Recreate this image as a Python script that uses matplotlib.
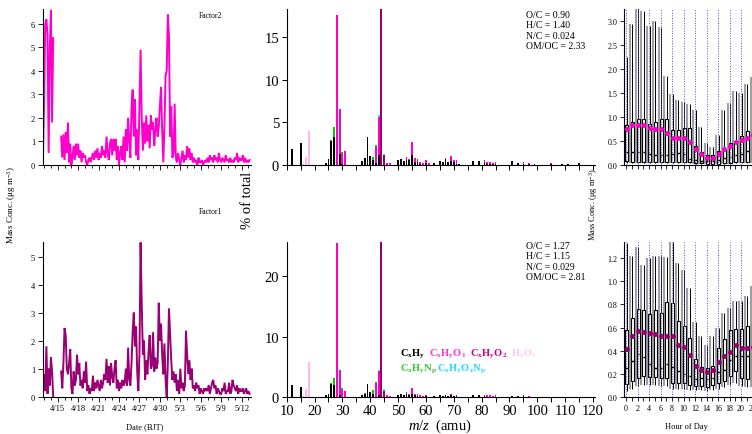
import numpy as np
import pandas as pd
import matplotlib
matplotlib.use('Agg')
import matplotlib.pyplot as plt
import matplotlib.dates as mdates
from matplotlib.ticker import MultipleLocator, FuncFormatter

plt.rcParams['font.family'] = ['Liberation Serif', 'DejaVu Serif']
plt.rcParams['mathtext.fontset'] = 'custom'
plt.rcParams['mathtext.rm'] = 'Liberation Serif'
plt.rcParams['mathtext.it'] = 'Liberation Serif:italic'
plt.rcParams['mathtext.bf'] = 'Liberation Serif:bold'

nan = np.nan
# ---------------- time series (4-hourly, starting 4/12 20:00) ----------------
ts_start = '2014-04-12 20:00'
factor2_ts = [0.4,
    2.7, 6.0, 6.2, 5.5, 0.5, 5.0,
    6.6, 1.8, 5.4, nan, nan, nan,
    nan, nan, nan, 1.2, 0.3, 1.3,
    0.2, 1.4, 0.5, 1.8, 0.1, 0.9,
    0.0, 0.3, 0.8, 0.2, 0.9, 0.4,
    0.9, 0.3, 0.6, 0.1, 0.5, 0.3,
    0.4, 0.1, 0.0, 0.2, 0.3, 0.1,
    0.3, 0.5, 0.2, 0.6, 0.3, 0.7,
    0.2, 0.5, 0.3, 0.8, 0.4, 0.6,
    0.3, 1.2, 0.5, 0.2, 0.9, 1.1,
    0.4, 1.1, 0.6, 1.1, 0.2, 0.8,
    0.0, 0.5, 0.8, 0.2, 1.2, 0.1,
    1.5, 0.6, 2.0, 1.0, 0.3, 2.4,
    3.2, 1.2, 2.8, 0.4, 1.5, 0.2,
    2.5, 4.9, 2.0, 0.6, 1.8, 0.9,
    2.1, 1.0, 1.7, 0.7, 2.1, 1.5,
    1.8, 0.8, 1.5, 2.0, 1.2, 1.6,
    2.5, 3.3, 1.5, 0.1, 1.6, 3.8,
    4.0, 6.4, 5.5, 1.2, 2.5, 0.3,
    0.5, 2.6, 0.3, 0.1, 0.5, 0.2,
    0.0, 0.3, 0.6, 0.1, 0.4, 0.2,
    0.8, 0.3, 0.7, 0.2, 0.5, 0.1,
    0.3, 0.1, 0.2, 0.0, 0.3, 0.1,
    0.1, 0.2, 0.0, 0.1, 0.2, 0.1,
    0.3, 0.1, 0.4, 0.2, 0.3, 0.1,
    0.4, 0.2, 0.3, 0.1, 0.5, 0.2,
    0.1, 0.3, 0.2, 0.1, 0.4, 0.2,
    0.2, 0.1, 0.3, 0.1, 0.2, 0.1,
    0.3, 0.2, 0.5, 0.1, 0.3, 0.2,
    0.2, 0.4, 0.1, 0.3, 0.1, 0.2,
    0.1, 0.2]

factor1_ts = [0.3,
    0.8, 0.2, 1.8, 0.1, 1.0, 0.4,
    1.4, 0.9, 0.0, nan, nan, nan,
    nan, nan, nan, 0.9, 0.3, 1.2,
    2.45, 2.2, 1.0, 0.8, 1.2, 1.7,
    0.3, 0.1, 0.9, 0.4, 0.6, 1.5,
    0.8, 1.2, 0.4, 0.6, 0.3, 0.9,
    0.5, 1.25, 0.2, 0.4, 0.1, 0.3,
    0.2, 0.75, 0.2, 0.5, 0.3, 0.6,
    0.4, 0.2, 0.6, 0.3, 0.5, 0.8,
    0.6, 1.35, 0.5, 1.1, 0.4, 1.2,
    0.7, 0.5, 1.0, 1.3, 0.3, 0.6,
    0.2, 0.5, 0.3, 0.6, 0.4, 0.5,
    1.0, 0.4, 1.75, 0.6, 0.4, 1.2,
    2.3, 3.0, 1.8, 2.5, 0.9, 0.2,
    1.5, 5.5, 3.3, 1.5, 2.0, 0.6,
    1.3, 0.8, 1.6, 2.2, 1.0, 1.1,
    2.3, 0.9, 1.4, 1.0, 1.2, 3.35,
    2.0, 2.6, 1.5, 0.8, 1.9, 0.6,
    0.0, 1.2, 3.15, 2.2, 1.3, 0.6,
    0.9, 0.5, 0.8, 0.2, 0.6, 0.1,
    1.0, 0.3, 0.5, 0.2, 0.4, 2.35,
    1.5, 0.8, 1.3, 0.6, 1.0, 0.3,
    0.4, 0.2, 0.5, 0.3, 0.4, 0.1,
    0.3, 0.2, 0.1, 0.3, 0.2, 0.3,
    0.2, 0.4, 0.1, 0.3, 0.5, 0.6,
    0.3, 0.4, 0.1, 0.3, 0.2, 0.1,
    0.1, 0.3, 0.2, 0.5, 0.1, 0.2,
    0.2, 0.5, 0.1, 0.2, 0.6, 0.4,
    0.3, 0.2, 0.4, 0.1, 0.3, 0.2,
    0.2, 0.3, 0.1, 0.2, 0.3, 0.1,
    0.2, 0.1]

# ---------------- mass spectra ----------------
mz = [12, 15, 16, 17, 18, 24, 25, 26, 27, 28, 29, 30, 31, 37, 38, 39, 40, 41, 42, 43,
      44, 45, 46, 47, 50, 51, 52, 53, 54, 55, 56, 57, 58, 59, 60, 61, 63, 65, 66, 67,
      68, 69, 70, 71, 72, 77, 79, 81, 82, 83, 84, 85, 91, 93, 95, 97, 99, 105, 109, 111, 115]

f2_CxHy = [1.85, 2.55, 0, 0, 0, 0.2, 0.65, 2.75, 3.3, 0, 1.3, 0.1, 0, 0.45, 0.75, 3.25, 1.05, 0.5, 0.15, 1.1,
           0, 0, 0, 0, 0.55, 0.65, 0.45, 0.6, 0.5, 1.15, 0.3, 0.3, 0.05, 0, 0.2, 0, 0.25, 0.4, 0.3, 0.7,
           0.35, 0.4, 0.3, 0.1, 0.1, 0.45, 0.45, 0.2, 0.05, 0.1, 0.1, 0.1, 0.4, 0.2, 0.1, 0.05, 0.1, 0.05, 0.1, 0.05, 0.15]
f2_CxHyO1 = [0, 0, 0, 0, 0, 0, 0, 0, 0, 17.6, 5.25, 1.2, 1.65, 0, 0, 0, 0, 0, 1.95, 4.5,
             0, 0, 0.2, 0.2, 0, 0, 0, 0.35, 0.2, 1.5, 0.45, 0.4, 0.3, 0.15, 0.3, 0.15, 0, 0, 0, 0.1,
             0, 0.65, 0.3, 0.5, 0, 0, 0, 0.3, 0.25, 0.2, 0.1, 0.25, 0, 0, 0.25, 0.2, 0, 0.15, 0, 0.05, 0]
f2_CxHyO2 = [0]*20 + [19.5, 1.15] + [0]*39
f2_HyO1 = [0, 0, 0.2, 0.9, 3.95] + [0]*56
f2_CxHyNp = [0]*7 + [0.15, 1.1, 0, 0, 0.25] + [0]*5 + [0.45, 0.25] + [0]*42
f2_CxHyOzNp = [0]*19 + [0.2, 0, 0.15] + [0]*39

f1_CxHy = [1.9, 1.6, 0, 0, 0, 0.2, 0.45, 2.05, 2.0, 0, 0.3, 0, 0, 0.35, 0.5, 2.05, 0.8, 0.5, 0, 0.3,
           0, 0, 0, 0, 0.35, 0.4, 0.35, 0.4, 0.3, 0.5, 0.2, 0.15, 0, 0, 0.05, 0, 0.1, 0.2, 0.1, 0.3,
           0.1, 0.2, 0.1, 0.05, 0, 0.2, 0.2, 0.1, 0, 0, 0, 0, 0.15, 0.05, 0.05, 0, 0, 0, 0, 0, 0]
f1_CxHyO1 = [0, 0, 0, 0, 0, 0, 0, 0, 0, 25.5, 4.2, 1.1, 1.0, 0, 0, 0, 0, 0, 2.2, 3.9,
             0, 0, 0.2, 0.1, 0, 0, 0, 0.3, 0.1, 0.95, 0.2, 0.25, 0.3, 0.1, 0.2, 0, 0, 0, 0, 0,
             0, 0.3, 0.05, 0.3, 0, 0, 0, 0.2, 0.25, 0.2, 0.05, 0.25, 0, 0, 0.15, 0.1, 0, 0, 0, 0, 0]
f1_CxHyO2 = [0]*20 + [27.0, 1.0] + [0]*39
f1_HyO1 = [0, 0, 0.2, 1.3, 5.8] + [0]*56
f1_CxHyNp = [0]*7 + [0.2, 1.05, 0, 0, 0.3] + [0]*2 + [0.1] + [0]*2 + [0.55, 0.2] + [0]*42
f1_CxHyOzNp = [0]*19 + [0.3, 0, 0.2] + [0]*39

family_names = ['C$_\\mathbf{x}$H$_\\mathbf{y}$',
                'C$_\\mathbf{x}$H$_\\mathbf{y}$O$_\\mathbf{1}$',
                'C$_\\mathbf{x}$H$_\\mathbf{y}$O$_\\mathbf{2}$',
                'H$_\\mathbf{y}$O$_\\mathbf{1}$',
                'C$_\\mathbf{x}$H$_\\mathbf{y}$N$_\\mathbf{p}$',
                'C$_\\mathbf{x}$H$_\\mathbf{y}$O$_\\mathbf{z}$N$_\\mathbf{p}$']
bar_colors = ['#000000', '#FF00CC', '#990066', '#FFB8E8', '#00CC00', '#00FFFF']
text_colors = ['#000000', '#FF33CC', '#CC0099', '#FFCCEE', '#33CC33', '#22DDFF']

f2_ratios = 'O/C = 0.90\nH/C = 1.40\nN/C = 0.024\nOM/OC = 2.33'
f1_ratios = 'O/C = 1.27\nH/C = 1.15\nN/C = 0.029\nOM/OC = 2.81'

# ---------------- diurnal box statistics ----------------
hours = list(range(24))
f2_lo = [0.03, 0.03, 0.03, 0.03, 0.03, 0.03, 0.03, 0.03, 0.03, 0.03, 0.03, 0.03,
         0.02, 0.02, 0.01, 0.01, 0.01, 0.02, 0.02, 0.03, 0.03, 0.03, 0.03, 0.04]
f2_q1 = [0.08, 0.06, 0.06, 0.06, 0.06, 0.06, 0.05, 0.05, 0.06, 0.05, 0.05, 0.05,
         0.03, 0.03, 0.02, 0.02, 0.02, 0.03, 0.04, 0.05, 0.06, 0.06, 0.06, 0.07]
f2_q3 = [0.82, 0.88, 0.95, 0.95, 0.85, 0.88, 0.95, 0.95, 0.73, 0.73, 0.77, 0.77,
         0.40, 0.27, 0.20, 0.20, 0.28, 0.33, 0.45, 0.50, 0.60, 0.70, 0.73, 0.80]
f2_med = [0.27, 0.27, 0.27, 0.27, 0.23, 0.20, 0.20, 0.20, 0.22, 0.25, 0.23, 0.12,
          0.10, 0.08, 0.07, 0.07, 0.10, 0.13, 0.17, 0.20, 0.22, 0.28, 0.30, 0.30]
f2_mean = [0.75, 0.83, 0.83, 0.82, 0.77, 0.75, 0.75, 0.67, 0.55, 0.55, 0.55, 0.48,
           0.32, 0.22, 0.15, 0.14, 0.22, 0.32, 0.39, 0.48, 0.52, 0.56, 0.62, 0.70]
f2_hi = [2.25, 2.93, 3.3, 3.2, 2.88, 3.0, 2.87, 1.85, 1.47, 1.34, 1.30, 1.27,
         1.13, 0.79, 0.46, 0.36, 0.62, 1.13, 1.28, 1.53, 1.50, 1.68, 1.83, 2.0]

f1_lo = [0.05, 0.07, 0.09, 0.10, 0.10, 0.10, 0.09, 0.09, 0.07, 0.07, 0.07, 0.06,
         0.06, 0.06, 0.05, 0.06, 0.07, 0.08, 0.10, 0.12, 0.09, 0.08, 0.08, 0.08]
f1_q1 = [0.11, 0.14, 0.16, 0.18, 0.17, 0.17, 0.16, 0.16, 0.12, 0.12, 0.12, 0.10,
         0.09, 0.09, 0.08, 0.10, 0.12, 0.14, 0.18, 0.22, 0.16, 0.15, 0.14, 0.14]
f1_q3 = [0.58, 0.68, 0.76, 0.75, 0.72, 0.75, 0.73, 0.82, 0.81, 0.66, 0.61, 0.51,
         0.33, 0.26, 0.25, 0.27, 0.42, 0.50, 0.58, 0.59, 0.59, 0.61, 0.64, 0.62]
f1_med = [0.25, 0.31, 0.37, 0.34, 0.28, 0.25, 0.25, 0.28, 0.26, 0.22, 0.20, 0.18,
          0.15, 0.16, 0.15, 0.16, 0.21, 0.23, 0.32, 0.35, 0.35, 0.35, 0.29, 0.30]
f1_mean = [0.41, 0.53, 0.57, 0.56, 0.55, 0.54, 0.53, 0.53, 0.53, 0.45, 0.43, 0.36,
           0.27, 0.23, 0.21, 0.23, 0.30, 0.35, 0.39, 0.45, 0.42, 0.42, 0.43, 0.42]
f1_hi = [1.33, 1.22, 1.30, 1.14, 1.20, 1.22, 1.22, 1.21, 1.34, 1.16, 1.10, 0.94,
         0.65, 0.53, 0.45, 0.53, 0.60, 0.73, 0.77, 0.83, 0.83, 0.87, 0.96, 0.95]

C_F2 = '#FF00CC'
C_F1 = '#990073'

# ---------------- figure ----------------
W, H = 752, 435
fig = plt.figure(figsize=(W / 100, H / 100), dpi=100)

def fx(px):
    return px / W

def fy(py):
    return 1 - py / H

top_b, top_h = fy(165.7), 155.5 / H
bot_b, bot_h = fy(397.7), 154.5 / H

axL2 = fig.add_axes([fx(42.7), top_b, 208 / W, top_h])
axL1 = fig.add_axes([fx(42.7), bot_b, 208 / W, bot_h])
axM2 = fig.add_axes([fx(286.7), top_b, 308 / W, top_h])
axM1 = fig.add_axes([fx(286.7), bot_b, 308 / W, bot_h])
axR2 = fig.add_axes([fx(624.3), top_b, 138 / W, top_h])
axR1 = fig.add_axes([fx(624.3), bot_b, 138 / W, bot_h])

for ax in [axL2, axL1, axM2, axM1, axR2, axR1]:
    ax.spines['top'].set_visible(False)
    ax.spines['right'].set_visible(False)
    ax.spines['left'].set_linewidth(0.8)
    ax.spines['bottom'].set_linewidth(0.8)
    ax.patch.set_alpha(0)

# ---- time series ----
major_days = pd.date_range('2014-04-15', '2014-05-12', freq='3D')
date_fmt = FuncFormatter(lambda v, p: '%d/%d' % (mdates.num2date(v).month, mdates.num2date(v).day))
for ax, vals, col, ymax, ytop in [(axL2, factor2_ts, C_F2, 6.63, 6),
                                  (axL1, factor1_ts, C_F1, 5.51, 5)]:
    t = pd.date_range(ts_start, periods=len(vals), freq='4h')
    ax.plot(t, vals, color=col, lw=1.4, solid_joinstyle='miter')
    ax.set_ylim(0, ymax)
    ax.set_xlim(pd.Timestamp('2014-04-12 19:00'), pd.Timestamp('2014-05-13 08:00'))
    ax.set_yticks(range(0, ytop + 1))
    ax.set_xticks(major_days)
    ax.xaxis.set_minor_locator(mdates.DayLocator())
    ax.xaxis.set_major_formatter(date_fmt)
    ax.tick_params(axis='both', which='major', direction='out', length=3.5, width=0.6,
                   labelsize=6, pad=2)
    ax.tick_params(axis='x', which='minor', direction='out', length=2.2, width=0.6)
axL2.tick_params(axis='x', labelbottom=False)

fig.text(fx(210), fy(16), 'Factor2', fontsize=5.5, ha='center', va='center')
fig.text(fx(210), fy(212), 'Factor1', fontsize=5.5, ha='center', va='center')
fig.text(fx(12), fy(205), 'Mass Conc. (\u03bcg m$^{-3}$)', fontsize=6.5, rotation=90,
         ha='center', va='center')
fig.text(fx(145), fy(427), 'Date (BJT)', fontsize=6, ha='center', va='center')

# ---- mass spectra ----
spec = [(axM2, [f2_CxHy, f2_CxHyO1, f2_CxHyO2, f2_HyO1, f2_CxHyNp, f2_CxHyOzNp], 18.3, [0, 5, 10, 15]),
        (axM1, [f1_CxHy, f1_CxHyO1, f1_CxHyO2, f1_HyO1, f1_CxHyNp, f1_CxHyOzNp], 25.7, [0, 10, 20])]
for ax, fams, ymax, yt in spec:
    bottom = np.zeros(len(mz))
    for arr, c in zip(fams, bar_colors):
        arr = np.array(arr, dtype=float)
        ax.bar(mz, arr, width=0.65, bottom=bottom, color=c, linewidth=0)
        bottom += arr
    ax.set_ylim(0, ymax)
    ax.set_xlim(10, 120.6)
    ax.set_yticks(yt)
    ax.xaxis.set_major_locator(MultipleLocator(10))
    ax.xaxis.set_minor_locator(MultipleLocator(5))
    ax.tick_params(axis='both', which='major', direction='out', length=3.5, width=0.7,
                   labelsize=10.5, pad=2)
    ax.tick_params(axis='x', which='minor', direction='out', length=3.5, width=0.7)
axM2.tick_params(axis='x', labelbottom=False)
axM1.set_xticks(range(10, 121, 10))

fig.text(fx(526), fy(11), f2_ratios, fontsize=7, ha='left', va='top', linespacing=1.2)
fig.text(fx(526), fy(242), f1_ratios, fontsize=7, ha='left', va='top', linespacing=1.2)
fig.text(fx(248), fy(200), '% of total', fontsize=10.5, rotation=90, ha='center', va='center')
fig.text(fx(440), fy(426), '$\\mathit{m/z}$  (amu)', fontsize=10.5, ha='center', va='center')

# family legend as coloured text
leg_fs = 7.6
prev = axM1.text(fx(400), fy(354), family_names[0], transform=fig.transFigure,
                 color=text_colors[0], fontsize=leg_fs, fontweight='bold', ha='left', va='center')
for name, col in zip(family_names[1:4], text_colors[1:4]):
    prev = axM1.annotate(name, xy=(1, 0.5), xycoords=prev, xytext=(2.5, 0),
                         textcoords='offset points', color=col, fontsize=leg_fs,
                         fontweight='bold', ha='left', va='center')
prev = axM1.text(fx(400), fy(369), family_names[4], transform=fig.transFigure,
                 color=text_colors[4], fontsize=leg_fs, fontweight='bold', ha='left', va='center')
axM1.annotate(family_names[5], xy=(1, 0.5), xycoords=prev, xytext=(0, 0),
              textcoords='offset points', color=text_colors[5], fontsize=leg_fs,
              fontweight='bold', ha='left', va='center')

# ---- diurnal box plots ----
diur = [(axR2, f2_lo, f2_q1, f2_q3, f2_med, f2_mean, f2_hi, C_F2, 3.24,
         [0.0, 0.5, 1.0, 1.5, 2.0, 2.5, 3.0]),
        (axR1, f1_lo, f1_q1, f1_q3, f1_med, f1_mean, f1_hi, C_F1, 1.34,
         [0.0, 0.2, 0.4, 0.6, 0.8, 1.0, 1.2])]
for ax, lo, q1, q3, med, mean, hi, col, ymax, yt in diur:
    h = np.array(hours, dtype=float)
    lo, q1, q3, med, mean, hi = map(np.array, (lo, q1, q3, med, mean, hi))
    ax.vlines(h - 0.34, lo, hi, color='#a0a0a0', lw=1.5, zorder=1)
    ax.vlines(h + 0.1, lo, hi, color='black', lw=0.7, zorder=1.5)
    ax.bar(h + 0.1, q3 - q1, bottom=q1, width=0.55, facecolor='white', edgecolor='black',
           linewidth=0.8, zorder=2)
    ax.hlines(med, h - 0.12, h + 0.32, color='black', lw=1.0, zorder=3)
    for hh in range(0, 24, 2):
        ax.axvline(hh, color='#4d4dff', ls=(0, (1, 1.6)), lw=0.7, zorder=3.5)
    ax.plot(h + 0.1, mean, 'o', color=col, ms=3.6, mec='none', zorder=4)
    ax.set_ylim(0, ymax)
    ax.set_xlim(-0.3, 23.7)
    ax.set_yticks(yt)
    ax.yaxis.set_major_formatter(FuncFormatter(lambda v, p: '%.1f' % v))
    ax.xaxis.set_major_locator(MultipleLocator(2))
    ax.xaxis.set_minor_locator(MultipleLocator(1))
    ax.tick_params(axis='both', which='major', direction='out', length=3, width=0.6,
                   labelsize=5.8, pad=2)
    ax.tick_params(axis='x', which='minor', direction='out', length=3, width=0.6)
axR2.tick_params(axis='x', labelbottom=False)

fig.text(fx(594), fy(205), 'Mass Conc. (\u03bcg m$^{-3}$)', fontsize=6, rotation=90,
         ha='center', va='center')
fig.text(fx(686), fy(427), 'Hour of Day', fontsize=6, ha='center', va='center')

fig.savefig('out.png', dpi=100)
